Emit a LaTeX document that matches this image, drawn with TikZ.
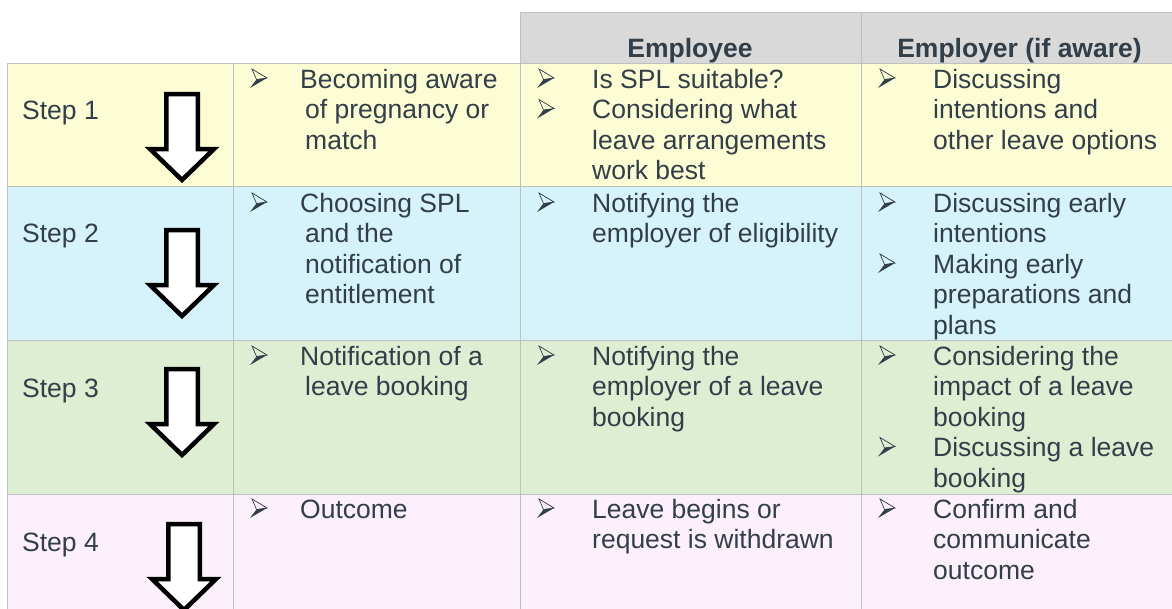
\documentclass[tikz,border=0pt]{standalone}
\usepackage{fontspec}
\setmainfont{Liberation Sans}

\definecolor{gridgray}{HTML}{BFBFBF}
\definecolor{headgray}{HTML}{D9D9D9}
\definecolor{inkslate}{HTML}{323E48}
\definecolor{rowyellow}{HTML}{FDFDD5}
\definecolor{rowblue}{HTML}{D6F2FB}
\definecolor{rowgreen}{HTML}{DDEED3}
\definecolor{rowpink}{HTML}{FDF0FD}

% one text line per node, stacked downwards from a first baseline
\newcommand\cellblock[4]{%
  \foreach \ln [count=\k from 0] in {#4} {%
    \node[celltext] (#1-\k) at (#2, #3+30.5*\k) {\ln};}}

% outlined block arrow pointing down: centre x, top y, tip y
\newcommand\stepdownarrow[3]{%
  \draw[blockarrow] (#1-15.75,#2) -- (#1+15.75,#2) -- (#1+15.75,#3-31)
    -- (#1+32,#3-31) -- (#1,#3) -- (#1-32,#3-31) -- (#1-15.75,#3-31) -- cycle;}

\begin{document}
\begin{tikzpicture}[x=1pt,y=-1pt,
  gridline/.style={draw=gridgray, line width=1pt},
  celltext/.style={anchor=base west, inner sep=0pt, text=inkslate,
    font=\fontsize{26.5}{30.5}\selectfont},
  headtext/.style={anchor=base, inner sep=0pt, text=inkslate,
    font=\fontsize{26.5}{30.5}\selectfont\bfseries},
  blockarrow/.style={draw=black, fill=white, line width=4.5pt, line join=miter, miter limit=10},
  % 3-D arrowhead list bullet, origin at its lower left on the baseline
  bulletmark/.pic={
    \fill[inkslate] (6.5,-8.5) -- (17,-10) -- (0,0) -- cycle;
    \draw[inkslate, line width=0.7pt, line join=miter] (2,-19) -- (17,-10) -- (6.5,-8.5) -- cycle;
  }]

\useasboundingbox (0,0) rectangle (1172,608);
\clip (0,0) rectangle (1172,608);

% row backgrounds
\fill[headgray]  (520,12.3) rectangle (1190,63);
\fill[rowyellow] (7.3,63)   rectangle (1190,186);
\fill[rowblue]   (7.3,186)  rectangle (1190,340);
\fill[rowgreen]  (7.3,340)  rectangle (1190,494);
\fill[rowpink]   (7.3,494)  rectangle (1190,640);

% grid
\draw[gridline] (520,12.3) -- (1190,12.3);
\foreach \yy in {63,186,340,494} {\draw[gridline] (7.3,\yy) -- (1190,\yy);}
\draw[gridline] (7.3,63) -- (7.3,640);
\draw[gridline] (233.3,63) -- (233.3,640);
\draw[gridline] (520,12.3) -- (520,640);
\draw[gridline] (861.7,12.3) -- (861.7,640);

% header
\node[headtext] (hEmployee) at (690,57) {Employee};
\node[headtext] (hEmployer) at (1019.5,57) {Employer (if aware)};

% step labels
\node[celltext] (step1) at (22,119) {Step 1};
\node[celltext] (step2) at (22,242) {Step 2};
\node[celltext] (step3) at (22,397) {Step 3};
\node[celltext] (step4) at (22,551) {Step 4};

% arrows between steps
\stepdownarrow{182}{94}{180}
\stepdownarrow{182}{230}{316}
\stepdownarrow{182}{369}{455}
\stepdownarrow{184}{524}{610}

% step 1
\pic (b1a) at (250,88) {bulletmark};
\cellblock{s1a}{300}{88}{Becoming aware}
\cellblock{s1b}{305}{118.5}{of pregnancy or, match}
\pic (b1b) at (537,88) {bulletmark};
\cellblock{e1a}{592}{88}{Is SPL suitable?}
\pic (b1c) at (537,118.5) {bulletmark};
\cellblock{e1b}{592}{118.5}{Considering what, leave arrangements, work best}
\pic (b1d) at (878,88) {bulletmark};
\cellblock{r1a}{933}{88}{Discussing, intentions and, other leave options}

% step 2
\pic (b2a) at (250,212) {bulletmark};
\cellblock{s2a}{300}{212}{Choosing SPL}
\cellblock{s2b}{305}{242.5}{and the, notification of, entitlement}
\pic (b2b) at (537,212) {bulletmark};
\cellblock{e2a}{592}{212}{Notifying the, employer of eligibility}
\pic (b2c) at (878,212) {bulletmark};
\cellblock{r2a}{933}{212}{Discussing early, intentions}
\pic (b2d) at (878,273) {bulletmark};
\cellblock{r2b}{933}{273}{Making early, preparations and, plans}

% step 3
\pic (b3a) at (250,365) {bulletmark};
\cellblock{s3a}{300}{365}{Notification of a}
\cellblock{s3b}{305}{395.5}{leave booking}
\pic (b3b) at (537,365) {bulletmark};
\cellblock{e3a}{592}{365}{Notifying the, employer of a leave, booking}
\pic (b3c) at (878,365) {bulletmark};
\cellblock{r3a}{933}{365}{Considering the, impact of a leave, booking}
\pic (b3d) at (878,456.5) {bulletmark};
\cellblock{r3b}{933}{456.5}{Discussing a leave, booking}

% step 4
\pic (b4a) at (250,518) {bulletmark};
\cellblock{s4a}{300}{518}{Outcome}
\pic (b4b) at (537,518) {bulletmark};
\cellblock{e4a}{592}{518}{Leave begins or, request is withdrawn}
\pic (b4c) at (878,518) {bulletmark};
\cellblock{r4a}{933}{518}{Confirm and, communicate, outcome}

\end{tikzpicture}
\end{document}
